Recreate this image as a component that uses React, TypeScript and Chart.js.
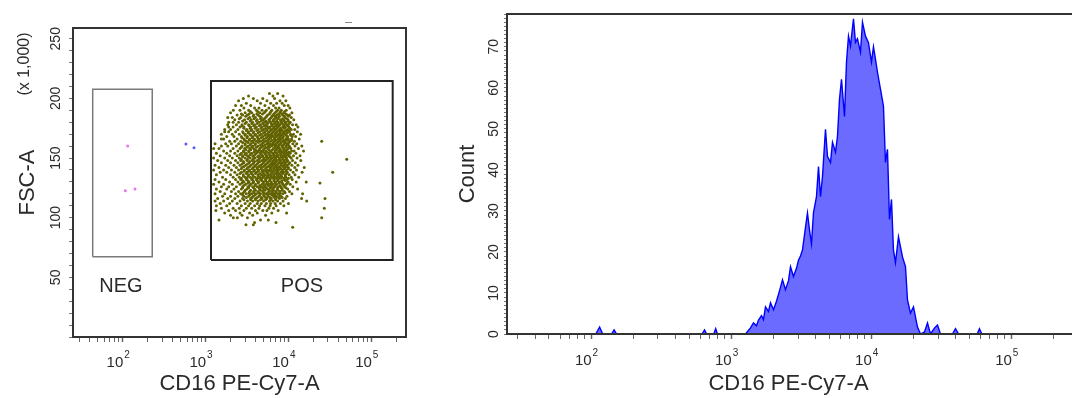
import React, { useEffect, useRef } from 'react';
import { Chart, registerables } from 'chart.js';

Chart.register(...registerables);

// ---------------- axis data ----------------
const CD16_MIN = 25.1;
const CD16_MAX = 262144;
const CD16_DECADES = [10, 100, 1000, 10000, 100000];
const CD16_LABELED = [100, 1000, 10000, 100000];
const CD16_BASE = '10';
const CD16_EXPONENTS = ['2', '3', '4', '5'];
const CD16_STEPS = [1, 2, 3, 4, 5, 6, 7, 8, 9];

const FSC_MAX = 259;
const FSC_TICKS = [0, 10, 20, 30, 40, 50, 60, 70, 80, 90, 100, 110, 120, 130, 140, 150, 160, 170, 180, 190, 200, 210, 220, 230, 240, 250];
const FSC_LABELS = [50, 100, 150, 200, 250];

const COUNT_MAX = 78;
const COUNT_LABELS = [0, 10, 20, 30, 40, 50, 60, 70];

const X_TITLE = 'CD16 PE-Cy7-A';
const FSC_TITLE = 'FSC-A';
const FSC_UNIT = '(x 1,000)';
const COUNT_TITLE = 'Count';

// ---------------- gates ----------------
const GATE_NAMES = ['NEG', 'POS'];
const GATE_X_LOW = [43.4, 1162];
const GATE_X_HIGH = [227, 181100];
const GATE_Y_LOW = [67.3, 64.5];
const GATE_Y_HIGH = [207.6, 214.6];
const GATE_LABEL_X = [95, 14560];
const GATE_LABEL_Y = [42.7, 42];

// ---------------- events ----------------
const NEG_EVENTS: [number, number][] = [[114.8, 160.1], [107.4, 122.6], [140.6, 124.1]];
const UNGATED_EVENTS: [number, number][] = [[579, 161.8], [725, 158.7]];

// POS gate events, row by row: [FSC-A (x1000), CD16 values]
const POS_ROWS: [number, number[]][] = [
  [204, [5900, 7400]],
  [202, [3300, 6500, 8600]],
  [200, [2850, 3770, 4900, 6800]],
  [198, [2500, 4200, 5500, 7900, 9300]],
  [196, [3100, 4600, 6100, 7200, 8400]],
  [194, [2300, 2700, 3500, 5200, 6600, 8900, 9900]],
  [192, [2900, 3900, 4400, 5800, 7000, 7700, 10400]],
  [190, [2160, 2600, 3300, 4100, 4800, 5400, 6300, 7400, 8200, 9400]],
  [189, [3450, 4250, 5250, 6150, 7150, 8050, 9000]],
  [188, [2000, 3000, 3600, 4500, 5100, 6000, 6900, 7900, 8800, 11000]],
  [187, [2700, 3350, 4150, 4850, 5900, 6700, 7600, 8300, 9300]],
  [186, [2400, 2800, 3200, 3800, 4300, 5600, 6500, 7300, 8500, 9700, 10300]],
  [185, [3050, 3750, 4500, 5450, 6350, 6900, 7800, 8900, 10000]],
  [184, [1850, 2100, 2650, 3400, 4000, 4700, 5300, 6200, 7100, 7600, 9100, 10800]],
  [183, [2550, 3250, 3850, 4600, 5100, 6000, 6800, 7400, 8500, 9500]],
  [182, [2250, 2950, 3550, 4200, 4900, 5800, 6600, 8000, 8700, 9900, 11600]],
  [181, [2800, 3450, 4100, 4700, 5300, 5900, 6500, 7200, 8100, 8900, 9900]],
  [180, [1900, 2150, 2500, 3100, 3700, 4400, 5100, 5500, 6100, 6900, 7500, 8300, 9300, 10500]],
  [179, [3000, 3600, 4200, 4900, 5600, 6200, 6800, 7500, 8300, 9100, 10200]],
  [178, [1850, 2350, 2750, 3300, 3900, 4600, 5300, 6400, 7200, 7900, 8800, 9600, 11200, 12400]],
  [177, [2750, 3350, 3800, 4450, 5100, 5450, 6300, 7000, 7700, 8800, 9900]],
  [176, [1900, 2150, 2600, 2900, 3500, 4100, 4800, 5700, 6000, 6700, 7400, 8500, 9200, 10100, 13000]],
  [175, [2900, 3450, 3950, 4650, 5300, 5900, 6600, 7200, 8000, 8900, 10400]],
  [174, [1700, 2000, 2450, 3150, 3600, 4300, 5000, 5500, 6300, 7000, 7800, 8200, 9700, 10800, 11900]],
  [173, [3100, 3550, 4150, 4800, 5500, 6100, 6800, 7600, 8400, 9300, 10100]],
  [172, [1700, 1900, 2300, 2800, 3300, 3800, 4500, 5200, 5900, 6600, 7300, 8000, 8900, 9500, 10300, 12800]],
  [171, [2850, 3250, 3750, 4300, 5000, 5700, 6400, 7100, 7900, 8700, 9700]],
  [170, [1550, 2100, 2550, 3000, 3450, 4000, 4700, 5400, 6200, 6900, 7600, 8400, 9100, 10600, 11500, 14000]],
  [169, [3000, 3500, 3950, 4500, 5200, 5800, 6300, 6900, 7500, 8200, 9400, 10700]],
  [168, [1800, 2200, 2700, 3200, 3700, 4200, 4900, 5600, 6000, 6500, 7200, 7900, 8700, 9800, 11100, 12200]],
  [167, [2750, 3150, 3650, 4250, 4700, 5400, 6100, 6900, 7800, 8500, 9600]],
  [166, [1550, 1650, 2400, 2900, 3400, 3900, 4400, 5100, 5800, 6700, 7500, 8200, 9300, 10000, 10900, 13500]],
  [165, [2950, 3350, 3800, 4300, 4900, 5600, 6300, 7100, 7900, 8800, 9700, 10900]],
  [164, [1950, 2250, 2650, 3100, 3600, 4100, 4600, 5300, 6100, 6800, 7700, 8600, 9000, 10400, 11800, 25200]],
  [163, [2800, 3250, 3750, 4350, 5000, 5700, 6600, 7400, 8200, 9200, 10100]],
  [162, [1300, 1750, 2050, 2500, 3000, 3500, 4000, 4800, 5500, 5900, 6400, 7100, 8000, 8900, 9600, 11300, 12600]],
  [161, [3000, 3450, 3950, 4600, 5200, 6000, 6700, 7700, 8700, 9900]],
  [160, [1550, 1850, 2350, 2750, 3250, 3700, 4300, 4900, 5700, 6300, 7000, 7400, 8300, 9400, 10200, 12000, 14500]],
  [159, [2700, 3150, 3600, 4100, 4700, 5300, 5900, 6900, 7600, 8500, 9300, 10400]],
  [158, [1250, 1450, 2150, 2600, 2950, 3400, 3800, 4500, 5100, 5600, 6600, 7300, 7800, 8700, 9900, 10700, 13200]],
  [157, [3050, 3500, 4000, 4450, 5000, 5800, 6400, 7100, 8000, 8900, 9600]],
  [156, [1650, 2000, 2450, 2850, 3300, 3900, 4200, 4700, 5300, 6000, 6900, 7600, 8200, 9100, 10900, 11700, 15200]],
  [155, [2900, 3350, 3850, 4350, 4900, 5500, 6200, 6900, 7700, 8500, 9300, 10100]],
  [154, [1350, 1800, 2250, 2700, 3100, 3600, 4100, 4600, 5200, 5800, 6500, 7200, 8100, 8800, 9700, 10500, 12300]],
  [153, [2600, 3000, 3450, 3950, 4700, 5300, 5900, 6600, 7300, 8000, 9000, 9800]],
  [152, [1500, 1950, 2400, 2800, 3200, 3700, 4400, 4900, 5500, 6200, 6800, 7500, 8500, 9300, 10100, 11500, 13800]],
  [151, [2800, 3300, 3800, 4250, 4750, 5400, 6000, 6700, 7300, 8200, 9100, 10400]],
  [150, [1250, 1700, 2100, 2550, 3000, 3450, 3950, 4500, 5100, 5700, 6400, 7000, 7800, 8600, 9500, 10800, 12700]],
  [149, [2700, 3200, 3750, 4400, 5000, 5500, 6100, 6900, 7700, 8500, 9400, 50500]],
  [148, [1400, 1850, 2300, 2650, 3150, 3650, 4200, 4800, 5300, 6000, 6600, 7300, 8000, 8900, 9800, 11200, 14100]],
  [147, [2850, 3400, 3900, 4500, 5100, 5800, 6500, 7100, 7900, 8800, 9700]],
  [146, [1550, 2000, 2450, 2900, 3350, 3800, 4300, 5000, 5600, 6300, 6900, 7700, 8400, 9200, 10400, 12100]],
  [145, [2750, 3200, 3700, 4200, 4800, 5400, 6100, 6700, 7400, 8100, 9000, 10100]],
  [144, [1300, 1750, 2200, 2600, 3050, 3500, 4000, 4600, 5200, 5900, 6500, 7100, 8200, 8800, 9600, 11000, 13000]],
  [143, [2900, 3400, 3900, 4400, 5000, 5700, 6300, 7000, 7700, 8600, 9500]],
  [142, [1450, 1900, 2350, 2750, 3250, 3750, 4200, 4700, 5400, 6100, 6800, 7400, 7900, 9000, 10000, 11900, 15500]],
  [141, [2700, 3150, 3650, 4200, 4700, 5300, 6000, 6600, 7300, 8100, 8900, 9900]],
  [140, [1250, 1650, 2050, 2500, 2950, 3400, 3900, 4400, 5000, 5600, 6200, 7000, 7600, 8500, 9400, 10600, 12500]],
  [139, [2900, 3300, 3800, 4300, 4800, 5300, 5900, 6600, 7400, 8300, 9300]],
  [138, [1500, 1800, 2250, 2700, 3150, 3550, 4100, 4900, 5500, 6400, 7200, 8100, 8700, 9700, 11400, 14600, 34200]],
  [137, [2600, 3100, 3550, 4000, 4500, 5000, 5600, 6200, 6900, 7600, 8500, 9500]],
  [136, [1350, 2000, 2400, 2850, 3300, 3700, 4300, 4700, 5200, 5800, 6600, 7300, 8000, 9100, 10200, 12000]],
  [135, [2850, 3250, 3750, 4300, 4900, 5500, 6100, 6700, 7400, 8200, 9200]],
  [134, [1600, 2150, 2550, 3000, 3450, 3950, 4500, 5100, 5700, 6300, 6900, 7700, 8400, 9300, 10800, 13300]],
  [133, [2700, 3150, 3650, 4250, 4800, 5400, 6000, 6600, 7200, 8000, 8900, 10000]],
  [132, [1300, 1750, 2300, 2650, 3100, 3600, 4100, 4600, 5300, 6000, 6700, 7500, 8800, 9600, 11100]],
  [131, [2800, 3250, 3750, 4200, 4800, 5300, 5900, 6700, 7400, 8300, 9200]],
  [130, [1450, 1950, 2450, 2900, 3350, 3800, 4400, 5000, 5500, 6200, 7000, 7800, 8300, 9900, 12400, 16400]],
  [129, [2750, 3250, 3700, 4300, 5000, 5600, 6200, 6900, 7700, 8400, 9700, 24000]],
  [128, [1250, 1650, 2100, 2600, 3050, 3500, 4000, 4800, 5400, 5900, 6500, 7200, 8600, 9400, 10500]],
  [127, [2900, 3400, 3950, 4500, 5100, 5700, 6300, 7000, 7900, 8800]],
  [126, [1550, 1900, 2350, 2800, 3250, 3700, 4200, 4700, 5200, 6100, 6800, 7600, 8100, 9000, 11300]],
  [125, [2800, 3300, 3800, 4400, 4900, 5400, 6000, 6600, 7400, 8200, 9300]],
  [124, [1350, 1800, 2200, 2700, 3150, 3900, 4500, 5000, 5600, 6400, 7300, 8400, 9800, 12900]],
  [123, [3000, 3500, 4000, 4600, 5200, 5900, 6600, 7500, 8400]],
  [122, [1500, 2050, 2500, 2950, 3400, 3800, 4300, 4900, 5800, 6300, 7000, 7900, 8900, 10300]],
  [121, [2850, 3350, 3850, 4400, 5000, 5600, 6400, 7100, 7900, 9100]],
  [120, [1300, 1700, 2300, 2650, 3100, 3600, 4100, 4600, 5300, 6000, 6700, 7500, 8500, 11000, 14800]],
  [119, [2800, 3400, 3950, 4500, 5000, 5600, 6300, 6900, 7800]],
  [118, [1600, 2000, 2450, 2900, 3300, 3750, 4400, 5100, 5700, 6600, 7200, 8100, 9600]],
  [117, [3100, 3650, 4200, 4700, 5300, 6000, 6800, 7600, 8400]],
  [116, [1400, 1850, 2250, 2800, 3500, 4000, 4800, 5500, 6200, 7000, 7800, 9200, 14400, 27600]],
  [115, [2900, 3500, 4000, 4600, 5300, 6100, 7000]],
  [114, [1300, 1650, 2100, 2600, 3200, 3700, 4300, 5000, 5900, 6500, 7400, 8600, 16600]],
  [112, [1500, 1950, 2400, 3000, 3450, 4200, 4700, 5400, 6100, 6900, 8000, 10000]],
  [110, [1350, 1800, 2700, 3300, 3900, 4500, 5200, 6000, 7100, 8800]],
  [108, [1550, 2150, 2550, 3100, 3600, 4400, 5800, 6600, 27100]],
  [106, [1330, 1900, 2300, 2900, 4000, 4900, 5500, 7500]],
  [104, [1700, 2600, 3400, 4200, 6300, 9500]],
  [102, [2000, 2750, 3700, 5300]],
  [100, [2160, 2415, 3200, 25180]],
  [98, [1450, 4600, 5710]],
  [96, [3900, 7070]],
  [94, [3070, 3770]],
  [92, [11250]],
];

// Histogram: [CD16 value, count]
const HIST_BINS: [number, number][] = [
  [30, 0], [108, 0], [115, 1.7], [121, 0], [140, 0], [146, 1], [152, 0],
  [620, 0], [645, 1], [668, 0], [752, 0], [775, 1.3], [798, 0],
  [1265, 0], [1373, 1.5], [1443, 2.7], [1516, 2], [1566, 3.4], [1646, 4.5], [1700, 3.5], [1757, 6.6],
  [1846, 5.5], [1908, 7.6], [2004, 5.9], [2105, 8], [2212, 10.5], [2324, 13.2], [2441, 10.8], [2565, 13],
  [2651, 16.4], [2784, 14], [2925, 16], [3022, 18], [3123, 19], [3228, 20.5], [3391, 26], [3504, 29.5],
  [3622, 25.4], [3743, 22], [3868, 29.6], [4063, 33.5], [4200, 40.8], [4340, 33.5], [4485, 38.4],
  [4711, 49.9], [4869, 43.3], [5115, 41.8], [5286, 46.7], [5553, 44.3], [5739, 48.2], [5930, 57.2],
  [6130, 62.1], [6440, 53], [6653, 66.3], [6876, 72.6], [7105, 70.2], [7464, 76.8], [7713, 71.1],
  [7970, 72], [8375, 68.7], [8654, 76], [9091, 72.6], [9550, 71], [10033, 66.3], [10368, 70],
  [10715, 67], [11074, 63.8], [11633, 59.7], [12221, 55.5], [12626, 41.8], [13049, 45], [13490, 27.9],
  [13940, 32.8], [14400, 20.5], [14885, 17.4], [15636, 23.7], [16701, 18.8], [17545, 16.4], [18132, 8.3],
  [19048, 5.1], [20012, 6.6], [21370, 1.7], [22450, 0], [23980, 0.5], [25190, 2.7], [26465, 0],
  [28300, 1.5], [29697, 2.2], [31190, 0], [38000, 0], [39920, 1.3], [42000, 0], [57000, 0], [59200, 1.3],
  [61500, 0], [262000, 0],
];

// ---------------- styling ----------------
const FONT = '"Liberation Sans", Arial, sans-serif';
const TEXT = '#2a2a2a';
const FRAME = '#333333';

const cd16TickValues = () => {
  const out: { value: number }[] = [];
  CD16_DECADES.forEach((d) =>
    CD16_STEPS.forEach((m) => {
      const v = d * m;
      if (v >= CD16_MIN && v <= CD16_MAX) out.push({ value: v });
    })
  );
  return out;
};

const cd16Axis = (height: number) => ({
  type: 'logarithmic',
  min: CD16_MIN,
  max: CD16_MAX,
  afterBuildTicks: (s: any) => {
    s.ticks = cd16TickValues();
  },
  afterFit: (s: any) => {
    s.height = height;
  },
  ticks: {
    autoSkip: false,
    minRotation: 0,
    maxRotation: 0,
    callback: () => '',
  },
  grid: {
    drawOnChartArea: false,
    drawTicks: true,
    tickLength: 5,
    tickColor: '#666',
    tickWidth: (c: any) => (c.tick && CD16_LABELED.includes(c.tick.value) ? 1.5 : 1),
  },
  border: { display: false },
  title: {
    display: true,
    text: X_TITLE,
    color: TEXT,
    font: { family: FONT, size: 22 },
    padding: { top: 0, bottom: 1 },
  },
});

// "10" with a raised exponent at each labelled decade of the CD16 axis
const decadeLabels = (offset: number) => ({
  id: 'decadeLabels',
  afterDraw(chart: any) {
    const { ctx, chartArea, scales } = chart;
    const base = chartArea.bottom + offset;
    ctx.save();
    ctx.fillStyle = TEXT;
    ctx.textBaseline = 'alphabetic';
    CD16_LABELED.forEach((v, i) => {
      const px = scales.x.getPixelForValue(v);
      ctx.font = `15px ${FONT}`;
      ctx.textAlign = 'right';
      ctx.fillText(CD16_BASE, px + 0.5, base);
      ctx.font = `10px ${FONT}`;
      ctx.textAlign = 'left';
      ctx.fillText(CD16_EXPONENTS[i], px + 1.5, base - 9);
    });
    ctx.restore();
  },
});

const framePlugin = (withRight: boolean) => ({
  id: 'frame' + (withRight ? 'Full' : 'Open'),
  afterDraw(chart: any) {
    const { ctx, chartArea } = chart;
    const { left, right, top, bottom } = chartArea;
    ctx.save();
    ctx.strokeStyle = FRAME;
    ctx.lineWidth = 2;
    ctx.beginPath();
    if (withRight) {
      ctx.rect(left, top, right - left, bottom - top);
    } else {
      ctx.moveTo(right + 10, top);
      ctx.lineTo(left, top);
      ctx.lineTo(left, bottom);
      ctx.lineTo(right + 10, bottom);
    }
    ctx.stroke();
    ctx.restore();
  },
});

const scatterNotes = {
  id: 'scatterNotes',
  afterDraw(chart: any) {
    const { ctx, chartArea, scales } = chart;
    ctx.save();
    ctx.fillStyle = TEXT;
    ctx.font = `20px ${FONT}`;
    ctx.textAlign = 'center';
    ctx.textBaseline = 'middle';
    GATE_NAMES.forEach((name, i) => {
      ctx.fillText(name, scales.x.getPixelForValue(GATE_LABEL_X[i]), scales.y.getPixelForValue(GATE_LABEL_Y[i]));
    });
    // unit note beside the FSC-A axis
    ctx.translate(chartArea.left - 48, chartArea.top + 36);
    ctx.rotate(-Math.PI / 2);
    ctx.font = `16px ${FONT}`;
    ctx.fillText(FSC_UNIT, 0, 0);
    ctx.restore();
    // small mark above the frame
    ctx.save();
    ctx.strokeStyle = '#888';
    ctx.lineWidth = 1;
    ctx.beginPath();
    ctx.moveTo(chartArea.right - 61, chartArea.top - 5.5);
    ctx.lineTo(chartArea.right - 54, chartArea.top - 5.5);
    ctx.stroke();
    ctx.restore();
  },
};

const gateRect = (i: number) => [
  { x: GATE_X_LOW[i], y: GATE_Y_LOW[i] },
  { x: GATE_X_HIGH[i], y: GATE_Y_LOW[i] },
  { x: GATE_X_HIGH[i], y: GATE_Y_HIGH[i] },
  { x: GATE_X_LOW[i], y: GATE_Y_HIGH[i] },
  { x: GATE_X_LOW[i], y: GATE_Y_LOW[i] },
];

const rotatedTicks = (labels: number[], pad: number, tickLength: number) => ({
  autoSkip: false,
  minRotation: 90,
  maxRotation: 90,
  crossAlign: 'center',
  padding: pad,
  color: TEXT,
  font: { family: FONT, size: 14 },
  callback: (v: any) => (labels.includes(Number(v)) ? String(v) : ''),
});

export default function App() {
  const leftRef = useRef<HTMLCanvasElement>(null);
  const rightRef = useRef<HTMLCanvasElement>(null);

  useEffect(() => {
    const posPoints = POS_ROWS.flatMap(([fsc, xs]) => xs.map((x) => ({ x, y: fsc })));

    const left = new Chart(leftRef.current!, {
      type: 'scatter',
      data: {
        datasets: [
          {
            data: posPoints,
            pointRadius: 1.5,
            pointBackgroundColor: '#626200',
            pointBorderColor: '#626200',
            pointBorderWidth: 0,
          },
          {
            data: NEG_EVENTS.map(([x, y]) => ({ x, y })),
            pointRadius: 1.5,
            pointBackgroundColor: '#ee70ee',
            pointBorderWidth: 0,
          },
          {
            data: UNGATED_EVENTS.map(([x, y]) => ({ x, y })),
            pointRadius: 1.5,
            pointBackgroundColor: '#5a5aff',
            pointBorderWidth: 0,
          },
          {
            data: gateRect(0),
            showLine: true,
            borderColor: '#7a7a7a',
            borderWidth: 1.5,
            pointRadius: 0,
            fill: false,
          },
          {
            data: gateRect(1),
            showLine: true,
            borderColor: '#222',
            borderWidth: 2,
            pointRadius: 0,
            fill: false,
          },
        ],
      } as any,
      options: {
        animation: false,
        responsive: false,
        events: [],
        layout: { padding: { top: 28, right: 24, left: 0, bottom: 0 } },
        plugins: { legend: { display: false }, tooltip: { enabled: false } },
        scales: {
          x: cd16Axis(61) as any,
          y: {
            type: 'linear',
            min: 0,
            max: FSC_MAX,
            afterBuildTicks: (s: any) => {
              s.ticks = FSC_TICKS.map((value) => ({ value }));
            },
            afterFit: (s: any) => {
              s.width = 73;
            },
            ticks: rotatedTicks(FSC_LABELS, 1, 4),
            grid: { drawOnChartArea: false, tickLength: 4, tickColor: '#777' },
            border: { display: false },
            title: {
              display: true,
              text: FSC_TITLE,
              color: TEXT,
              font: { family: FONT, size: 22 },
              padding: { top: 15, bottom: 0 },
            },
          } as any,
        },
      },
      plugins: [framePlugin(true), scatterNotes, decadeLabels(30)],
    });

    const right = new Chart(rightRef.current!, {
      type: 'line',
      data: {
        datasets: [
          {
            data: HIST_BINS.map(([x, y]) => ({ x, y })),
            borderColor: '#0000ff',
            borderWidth: 1.4,
            backgroundColor: '#6b6bff',
            fill: 'origin',
            pointRadius: 0,
            tension: 0,
          },
        ],
      } as any,
      options: {
        animation: false,
        responsive: false,
        events: [],
        layout: { padding: { top: 14, right: 10, left: 0, bottom: 0 } },
        plugins: { legend: { display: false }, tooltip: { enabled: false } },
        scales: {
          x: cd16Axis(64) as any,
          y: {
            type: 'linear',
            min: 0,
            max: COUNT_MAX,
            afterBuildTicks: (s: any) => {
              const t: { value: number }[] = [];
              for (let v = 0; v <= COUNT_MAX; v++) t.push({ value: v });
              s.ticks = t;
            },
            afterFit: (s: any) => {
              s.width = 67;
            },
            ticks: rotatedTicks(COUNT_LABELS, 2, 3),
            grid: { drawOnChartArea: false, tickLength: 3, tickColor: '#777' },
            border: { display: false },
            title: {
              display: true,
              text: COUNT_TITLE,
              color: TEXT,
              font: { family: FONT, size: 22 },
              padding: { top: 15, bottom: 0 },
            },
          } as any,
        },
      },
      plugins: [framePlugin(false), decadeLabels(31)],
    });

    return () => {
      left.destroy();
      right.destroy();
    };
  }, []);

  return (
    <div
      style={{
        position: 'absolute',
        left: 0,
        top: 0,
        width: 1072,
        height: 398,
        overflow: 'hidden',
        background: '#ffffff',
      }}
    >
      <canvas ref={leftRef} width={430} height={398} style={{ position: 'absolute', left: 0, top: 0 }} />
      <canvas ref={rightRef} width={640} height={398} style={{ position: 'absolute', left: 440, top: 0 }} />
    </div>
  );
}
